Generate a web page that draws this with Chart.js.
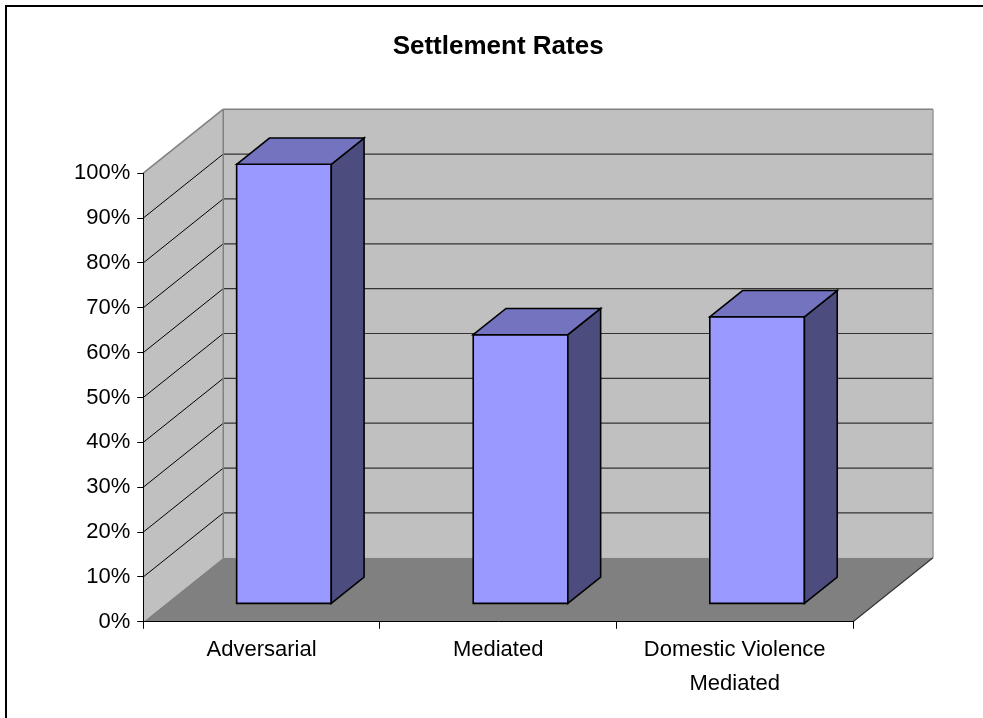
<!DOCTYPE html>
<html>
<head>
<meta charset="utf-8">
<script src="https://cdn.jsdelivr.net/npm/chart.js@4/dist/chart.umd.min.js"></script>
<style>
html,body{margin:0;padding:0;background:#fff;overflow:hidden;}
#wrap{width:983px;height:718px;position:relative;}
canvas{display:block;}
</style>
</head>
<body>
<div id="wrap"><canvas id="c" width="983" height="718"></canvas></div>
<script>
// ---- data ----
const categories = ['Adversarial', 'Mediated', ['Domestic Violence', 'Mediated']];
const settlementRates = [98, 60, 64];
const yTickValues = [0, 10, 20, 30, 40, 50, 60, 70, 80, 90, 100];
const chartTitle = 'Settlement Rates';

// ---- 3D look ----
const DEPTH = { x: 80, y: -64 };
const BAR_FRONT = 0.28;
const BAR_DEPTH = 0.41;
const COLORS = {
  wall: '#C0C0C0', floor: '#808080', wallEdge: '#808080',
  grid: '#000000', front: '#9999FF', top: '#7373BF', side: '#4C4C7F'
};

function poly(ctx, pts, fill, stroke, lw) {
  ctx.beginPath();
  ctx.moveTo(pts[0][0], pts[0][1]);
  for (let i = 1; i < pts.length; i++) ctx.lineTo(pts[i][0], pts[i][1]);
  ctx.closePath();
  if (fill) { ctx.fillStyle = fill; ctx.fill(); }
  if (stroke) { ctx.strokeStyle = stroke; ctx.lineWidth = lw || 1; ctx.lineJoin = 'miter'; ctx.stroke(); }
}
function seg(ctx, x1, y1, x2, y2, color, lw) {
  ctx.beginPath(); ctx.moveTo(x1, y1); ctx.lineTo(x2, y2);
  ctx.strokeStyle = color; ctx.lineWidth = lw || 1; ctx.stroke();
}

const box3d = {
  id: 'box3d',
  beforeDraw(chart) {
    const { ctx, chartArea: a } = chart;
    const y = chart.scales.y;
    const dx = DEPTH.x, dy = DEPTH.y;
    ctx.save();
    ctx.fillStyle = '#fff';
    ctx.fillRect(0, 0, chart.width, chart.height);
    // outer chart border (left and top edges visible)
    seg(ctx, 6, 5, 6, 718, '#000', 2);
    seg(ctx, 5, 6, 983, 6, '#000', 2);
    // walls
    poly(ctx, [[a.left, a.bottom], [a.left, a.top], [a.left + dx, a.top + dy], [a.left + dx, a.bottom + dy]], COLORS.wall);
    poly(ctx, [[a.left + dx, a.top + dy], [a.right + dx, a.top + dy], [a.right + dx, a.bottom + dy], [a.left + dx, a.bottom + dy]], COLORS.wall);
    poly(ctx, [[a.left, a.bottom], [a.right, a.bottom], [a.right + dx, a.bottom + dy], [a.left + dx, a.bottom + dy]], COLORS.floor);
    // gridlines
    y.ticks.forEach(t => {
      if (t.value <= y.min || t.value >= y.max) return;
      const py = y.getPixelForValue(t.value);
      seg(ctx, a.left, py, a.left + dx, py + dy, COLORS.grid, 1);
      seg(ctx, a.left + dx, py + dy, a.right + dx, py + dy, '#333333', 1.2);
    });
    // wall edges
    seg(ctx, a.left, a.top, a.left + dx, a.top + dy, COLORS.wallEdge, 1.5);
    seg(ctx, a.left + dx, a.top + dy, a.right + dx, a.top + dy, COLORS.wallEdge, 1.5);
    seg(ctx, a.left + dx, a.top + dy, a.left + dx, a.bottom + dy, COLORS.wallEdge, 1.5);
    seg(ctx, a.right + dx, a.top + dy, a.right + dx, a.bottom + dy, '#999999', 1.5);
    seg(ctx, a.right, a.bottom, a.right + dx, a.bottom + dy, '#333333', 1.2);
    ctx.restore();
  },
  afterDatasetsDraw(chart) {
    const { ctx } = chart;
    const meta = chart.getDatasetMeta(0);
    const fx = BAR_FRONT * DEPTH.x, fy = BAR_FRONT * DEPTH.y;
    const ddx = BAR_DEPTH * DEPTH.x, ddy = BAR_DEPTH * DEPTH.y;
    ctx.save();
    meta.data.forEach(bar => {
      const p = bar.getProps(['x', 'y', 'base', 'width'], true);
      const xL = p.x - p.width / 2 + fx, xR = p.x + p.width / 2 + fx;
      const yT = p.y + fy, yB = p.base + fy;
      const lw = 1.6;
      poly(ctx, [[xL, yT], [xR, yT], [xR, yB], [xL, yB]], COLORS.front, '#000', lw);
      poly(ctx, [[xR, yT], [xR + ddx, yT + ddy], [xR + ddx, yB + ddy], [xR, yB]], COLORS.side, '#000', lw);
      poly(ctx, [[xL, yT], [xL + ddx, yT + ddy], [xR + ddx, yT + ddy], [xR, yT]], COLORS.top, '#000', lw);
    });
    ctx.restore();
  }
};

Chart.defaults.font.family = '"Liberation Sans", Arial, sans-serif';
Chart.defaults.color = '#000';

new Chart(document.getElementById('c'), {
  type: 'bar',
  data: {
    labels: categories,
    datasets: [{
      label: chartTitle,
      data: settlementRates,
      backgroundColor: 'rgba(0,0,0,0)',
      borderWidth: 0,
      categoryPercentage: 1.0,
      barPercentage: 0.40
    }]
  },
  options: {
    responsive: false,
    animation: false,
    layout: { padding: { left: 67, right: 130, top: 0, bottom: 13 } },
    plugins: {
      legend: { display: false },
      tooltip: { enabled: false },
      title: {
        display: true, text: chartTitle, color: '#000', fullSize: false,
        font: { size: 26, weight: 'bold' },
        padding: { top: 31, bottom: 111 }
      }
    },
    scales: {
      x: {
        grid: { offset: true, drawOnChartArea: false, drawTicks: true, tickLength: 7, color: '#000' },
        border: { display: true, color: '#000', width: 1 },
        ticks: { font: { size: 22, lineHeight: 1.55 }, padding: 4, maxRotation: 0, autoSkip: false, color: '#000' }
      },
      y: {
        min: 0, max: 100,
        afterBuildTicks(scale) { scale.ticks = yTickValues.map(v => ({ value: v })); },
        grid: { drawOnChartArea: false, drawTicks: true, tickLength: 6, color: '#000' },
        border: { display: true, color: '#000', width: 1 },
        ticks: { font: { size: 22 }, padding: 7, color: '#000', callback: v => v + '%' }
      }
    }
  },
  plugins: [box3d]
});
</script>
</body>
</html>
